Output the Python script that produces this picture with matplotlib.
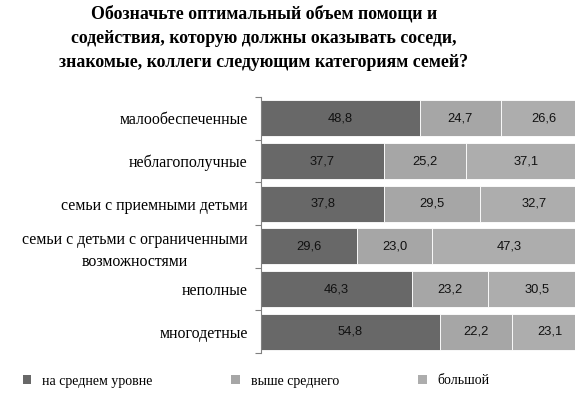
import matplotlib
matplotlib.use('Agg')
import matplotlib.pyplot as plt
from matplotlib.patches import Patch
import numpy as np

categories = ['малообеспеченные', 'неблагополучные', 'семьи с приемными детьми',
              'семьи с детьми с ограниченными\nвозможностями', 'неполные', 'многодетные']
average = [48.8, 37.7, 37.8, 29.6, 46.3, 54.8]
above_average = [24.7, 25.2, 29.5, 23.0, 23.2, 22.2]
large = [26.6, 37.1, 32.7, 47.3, 30.5, 23.1]
series_names = ['на среднем уровне', 'выше среднего', 'большой']
colors = ['#686868', '#a6a6a6', '#adadad']

title = ('Обозначьте оптимальный объем помощи и\n'
         'содействия, которую должны оказывать соседи,\n'
         'знакомые, коллеги следующим категориям семей?')

serif = ['Liberation Serif', 'DejaVu Serif']

fig = plt.figure(figsize=(5.75, 3.96), dpi=100)
ax = fig.add_axes([261 / 575, 1 - 353 / 396, 326 / 575, 256 / 396])

y = np.arange(len(categories))
left = np.zeros(len(categories))
for vals, col in zip([average, above_average, large], colors):
    vals = np.array(vals)
    ax.barh(y, vals, left=left, height=0.84, color=col,
            edgecolor='white', linewidth=0.6)
    for yi, l, v in zip(y, left, vals):
        ax.text(l + v / 2, yi, f'{v:.1f}'.replace('.', ','), ha='center', va='center',
                fontsize=9.3, family='Liberation Sans', color='#111111')
    left += vals

ax.set_xlim(0, 100)
ax.set_ylim(len(categories) - 0.5, -0.5)
ax.set_yticks(y)
ax.set_yticklabels(categories, family=serif, fontsize=11.4, multialignment='center',
                   linespacing=1.45)
ax.tick_params(axis='y', which='major', length=0, pad=9.5)
ax.set_yticks(np.arange(len(categories) + 1) - 0.5, minor=True)
ax.tick_params(axis='y', which='minor', length=4, color='#808080', width=0.8)
ax.set_xticks([])
for s in ['top', 'right', 'bottom']:
    ax.spines[s].set_visible(False)
ax.spines['left'].set_color('#808080')
ax.spines['left'].set_linewidth(0.8)

fig.text(264 / 575, 1 - 5 / 396, title, ha='center', va='top', fontsize=12.8,
         fontweight='bold', family=serif, linespacing=1.55)

handles = [Patch(facecolor=c, edgecolor='none') for c in colors]
fig.legend(handles, series_names, loc='center left', bbox_to_anchor=(10 / 575, 1 - 381 / 396),
           ncol=3, frameon=False, prop={'family': serif, 'size': 10},
           handlelength=0.6, handleheight=0.6, handletextpad=0.8, columnspacing=5.7)

fig.savefig('out.png', dpi=100)
